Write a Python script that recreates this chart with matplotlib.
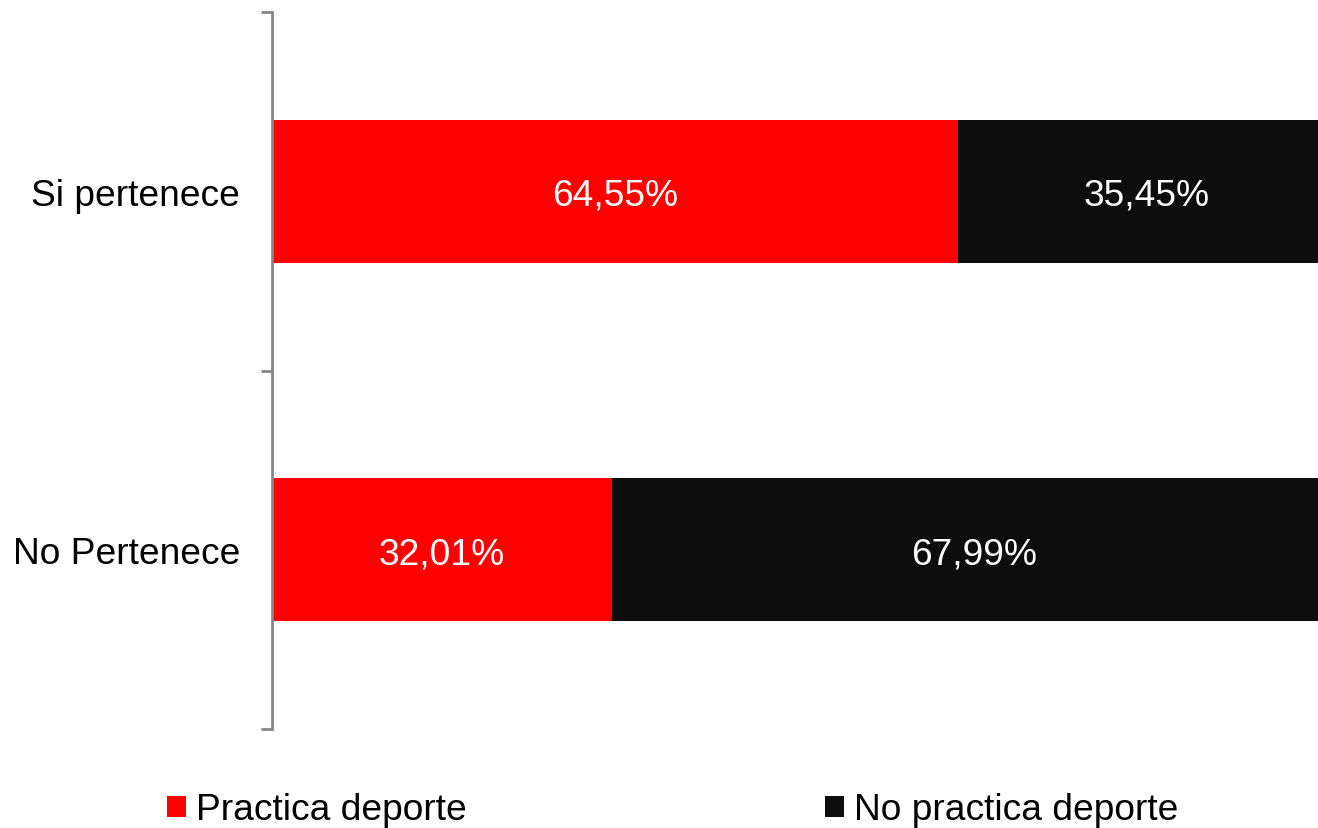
import matplotlib.pyplot as plt
from matplotlib.patches import Patch

plt.rcParams['font.family'] = ['Liberation Sans', 'DejaVu Sans']

# Data
categories = ['Si pertenece', 'No Pertenece']
practica = [64.55, 32.01]
no_practica = [35.45, 67.99]
series_names = ['Practica deporte', 'No practica deporte']
colors = ['#FF0000', '#0D0D0D']

fig = plt.figure(figsize=(13.18, 8.29), dpi=100)
ax = fig.add_axes([272 / 1318, 99 / 829, 1063 / 1318, 717 / 829])

ypos = list(range(len(categories)))
ax.barh(ypos, practica, height=0.4, color=colors[0])
ax.barh(ypos, no_practica, left=practica, height=0.4, color=colors[1])

# Value labels, centred in each segment
for y, a, b in zip(ypos, practica, no_practica):
    ax.text(a / 2, y, f'{a:.2f}%'.replace('.', ','), ha='center', va='center_baseline',
            color='white', fontsize=26.7)
    ax.text(a + b / 2, y, f'{b:.2f}%'.replace('.', ','), ha='center', va='center_baseline',
            color='white', fontsize=26.7)

ax.set_xlim(0, 100)
ax.set_ylim(len(categories) - 0.5, -0.5)

# Tick marks at category boundaries, labels at centres
ax.set_yticks([-0.5, 0.5, 1.5])
ax.set_yticklabels([])
ax.set_yticks(ypos, minor=True)
ax.set_yticklabels(categories, minor=True, fontsize=26.7)
ax.tick_params(axis='y', which='major', length=8, width=2, color='#868686')
ax.tick_params(axis='y', which='minor', length=0, pad=23)
ax.set_xticks([])

for s in ['top', 'right', 'bottom']:
    ax.spines[s].set_visible(False)
ax.spines['left'].set_color('#868686')
ax.spines['left'].set_linewidth(2)

handles = [Patch(facecolor=c, edgecolor='none') for c in colors]
fig.legend(handles, series_names, loc='center left', bbox_to_anchor=(167 / 1318, 18 / 829),
           ncol=2, frameon=False, fontsize=26.7, borderpad=0, borderaxespad=0,
           handlelength=0.52, handleheight=0.52, handletextpad=0.27, columnspacing=9.65)

fig.savefig('out.png', dpi=100)
